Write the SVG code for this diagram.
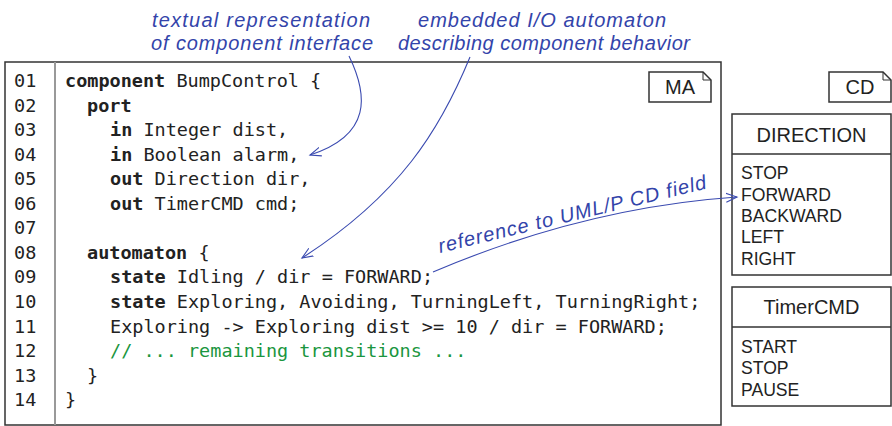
<svg xmlns="http://www.w3.org/2000/svg" width="892" height="426" viewBox="0 0 892 426">
<defs>
<style>
.code{font-family:"DejaVu Sans Mono","Liberation Mono",monospace;font-size:18.5px;fill:#222}
.kw{font-weight:bold}
.cmt{fill:#1a9640}
.ln{font-family:"DejaVu Sans Mono","Liberation Mono",monospace;font-size:18.5px;fill:#222}
.note{font-family:"Liberation Sans",Arial,sans-serif;font-style:italic;font-size:20px;fill:#3344aa}
.cls{font-family:"Liberation Sans",Arial,sans-serif;fill:#222}
.title{font-size:20px}
.item{font-size:17.6px}
.box{fill:#fff;stroke:#333;stroke-width:1.5}
.conn{fill:none;stroke:#3a4ab0;stroke-width:1.1}
</style>
<marker id="arr" markerUnits="userSpaceOnUse" markerWidth="14" markerHeight="14" refX="11" refY="5" orient="auto" viewBox="0 0 14 10">
<path d="M0,0.5 L11,5 L0,9.5" fill="none" stroke="#3a4ab0" stroke-width="1.1"/>
</marker>
</defs>

<g id="ma-frame">
<rect x="5" y="62" width="716" height="363" fill="#fff" stroke="#333" stroke-width="1.5"/>
<line x1="55" y1="62" x2="55" y2="425" stroke="#999" stroke-width="2"/>
</g>

<g id="ma-tab">
<path d="M649,72 H703 L711,80 V102 H649 Z" class="box" stroke-width="1.2"/>
<path d="M703,72 V80 H711" fill="none" stroke="#333" stroke-width="1"/>
<text x="680" y="94" text-anchor="middle" class="cls title">MA</text>
</g>

<g id="line-numbers" class="ln">
<text x="14" y="87">01</text>
<text x="14" y="111.5">02</text>
<text x="14" y="136">03</text>
<text x="14" y="160.7">04</text>
<text x="14" y="185.2">05</text>
<text x="14" y="209.8">06</text>
<text x="14" y="234.3">07</text>
<text x="14" y="258.9">08</text>
<text x="14" y="283.4">09</text>
<text x="14" y="308">10</text>
<text x="14" y="332.5">11</text>
<text x="14" y="357">12</text>
<text x="14" y="381.6">13</text>
<text x="14" y="406.2">14</text>
</g>

<g id="code" class="code">
<text x="65" y="87"><tspan class="kw">component</tspan> BumpControl {</text>
<text x="87" y="111.5"><tspan class="kw">port</tspan></text>
<text x="110" y="136"><tspan class="kw">in</tspan> Integer dist,</text>
<text x="110" y="160.7"><tspan class="kw">in</tspan> Boolean alarm,</text>
<text x="110" y="185.2"><tspan class="kw">out</tspan> Direction dir,</text>
<text x="110" y="209.8"><tspan class="kw">out</tspan> TimerCMD cmd;</text>
<text x="87" y="258.9"><tspan class="kw">automaton</tspan> {</text>
<text x="110" y="283.4"><tspan class="kw">state</tspan> Idling / dir = FORWARD;</text>
<text x="110" y="308"><tspan class="kw">state</tspan> Exploring, Avoiding, TurningLeft, TurningRight;</text>
<text x="110" y="332.5">Exploring -&gt; Exploring dist &gt;= 10 / dir = FORWARD;</text>
<text x="110" y="357" class="cmt">// ... remaining transitions ...</text>
<text x="87" y="381.6">}</text>
<text x="65" y="406.2">}</text>
</g>

<g id="cd-tab">
<path d="M829,72 H883 L891,80 V102 H829 Z" class="box" stroke-width="1.2"/>
<path d="M883,72 V80 H891" fill="none" stroke="#333" stroke-width="1"/>
<text x="860" y="94" text-anchor="middle" class="cls title">CD</text>
</g>

<g id="direction">
<rect x="732" y="114" width="159" height="161" class="box"/>
<line x1="732" y1="154" x2="891" y2="154" stroke="#333" stroke-width="1.5"/>
<text x="811.5" y="142" text-anchor="middle" class="cls title">DIRECTION</text>
<text class="cls item" x="741" y="179">STOP</text>
<text class="cls item" x="741" y="200.5">FORWARD</text>
<text class="cls item" x="741" y="221.8">BACKWARD</text>
<text class="cls item" x="741" y="243">LEFT</text>
<text class="cls item" x="741" y="264.5">RIGHT</text>
</g>

<g id="timercmd">
<rect x="732" y="287" width="159" height="119" class="box"/>
<line x1="732" y1="327" x2="891" y2="327" stroke="#333" stroke-width="1.5"/>
<text x="811.5" y="314" text-anchor="middle" class="cls title">TimerCMD</text>
<text class="cls item" x="741" y="352.5">START</text>
<text class="cls item" x="741" y="374">STOP</text>
<text class="cls item" x="741" y="395.5">PAUSE</text>
</g>

<g id="notes">
<text class="note" x="261" y="27" text-anchor="middle" textLength="218">textual representation</text>
<text class="note" x="262" y="50" text-anchor="middle" textLength="222">of component interface</text>
<text class="note" x="542" y="27" text-anchor="middle" textLength="248">embedded I/O automaton</text>
<text class="note" x="544" y="50" text-anchor="middle" textLength="292">describing component behavior</text>
<text class="note" x="440" y="253" transform="rotate(-13.6 440 253)" textLength="275">reference to UML/P CD field</text>
</g>

<g id="connectors">
<path class="conn" d="M349,56 C368,95 372,135 310,155" marker-end="url(#arr)"/>
<path class="conn" d="M470,57 C440,130 400,195 302,258" marker-end="url(#arr)"/>
<path class="conn" d="M433,272 C520,235 620,205 737,197" marker-end="url(#arr)"/>
</g>
</svg>
